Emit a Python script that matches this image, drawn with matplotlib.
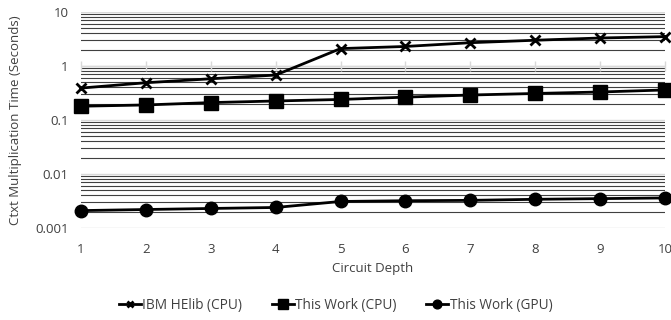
import matplotlib
matplotlib.use("Agg")
import matplotlib.pyplot as plt
from matplotlib.ticker import LogLocator, FixedLocator, NullFormatter

depth = [1, 2, 3, 4, 5, 6, 7, 8, 9, 10]
helib_cpu = [0.39, 0.49, 0.58, 0.68, 2.1, 2.3, 2.7, 3.0, 3.3, 3.5]
this_cpu = [0.18, 0.19, 0.21, 0.225, 0.24, 0.265, 0.29, 0.31, 0.33, 0.36]
this_gpu = [0.0021, 0.0022, 0.0023, 0.0024, 0.0031, 0.0032, 0.00325, 0.0034, 0.0035, 0.0036]
ytick_vals = [0.001, 0.01, 0.1, 1, 10]
ytick_labels = ["0.001", "0.01", "0.1", "1", "10"]

plt.rcParams['font.family'] = ['Open Sans', 'DejaVu Sans']

fig = plt.figure(figsize=(6.71, 3.2), dpi=100)
ax = fig.add_axes([0.1207, 0.2875, 0.8703, 0.675])
ax.set_yscale('log')
ax.set_ylim(0.001, 10)
ax.set_xlim(1, 10)

ax.set_yticks(ytick_vals)
ax.set_yticklabels(ytick_labels)
ax.yaxis.set_minor_locator(LogLocator(base=10, subs=range(2, 10), numticks=20))
ax.yaxis.set_minor_formatter(NullFormatter())
ax.grid(True, which='major', axis='y', color='#d9d9d9', linewidth=1.0)
ax.grid(True, which='minor', axis='y', color='#404040', linewidth=0.8)
ax.set_axisbelow(True)

ax.set_xticks(depth)
ax.tick_params(axis='both', which='both', length=0, labelsize=9.5, colors='#404040')
ax.tick_params(axis='x', pad=11)
ax.tick_params(axis='y', pad=9)
for s in ax.spines.values():
    s.set_visible(False)

# category axis crossing at 1
ax.axhline(1, color='#d9d9d9', linewidth=1.0, zorder=1)
ax.plot(depth, [1] * len(depth), linestyle='none', marker='|', markersize=7,
        color='#d9d9d9', markeredgewidth=1.0, zorder=1, clip_on=False)

ax.plot(depth, helib_cpu, color='black', linewidth=2, marker='x', markersize=7,
        markeredgewidth=2, label='IBM HElib (CPU)', clip_on=False, zorder=3)
ax.plot(depth, this_cpu, color='black', linewidth=2, marker='s', markersize=10,
        label='This Work (CPU)', clip_on=False, zorder=3)
ax.plot(depth, this_gpu, color='black', linewidth=2, marker='o', markersize=9,
        label='This Work (GPU)', clip_on=False, zorder=3)

ax.set_xlabel('Circuit Depth', fontsize=9.5, color='#404040', labelpad=4)
ax.set_ylabel('Ctxt Multiplication Time (Seconds)', fontsize=9.5, color='#404040', labelpad=9)

leg = fig.legend(loc='center', bbox_to_anchor=(0.5, 0.045), ncol=3, frameon=False,
                 fontsize=9.8, handlelength=1.6, handletextpad=0.1, columnspacing=2.2,
                 markerscale=0.7)
for t in leg.get_texts():
    t.set_color('#404040')

fig.savefig('out.png', dpi=100)
